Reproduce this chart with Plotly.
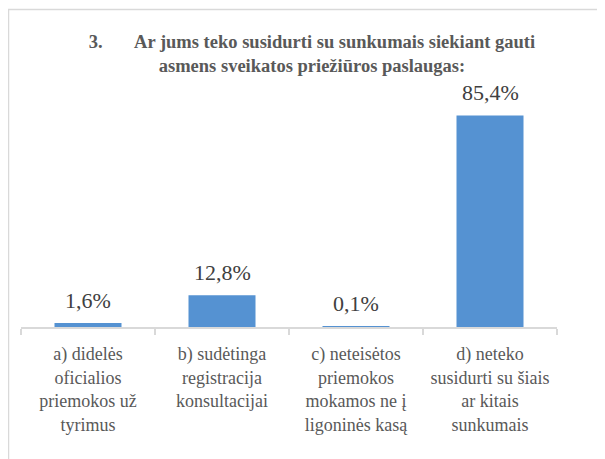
import plotly.graph_objects as go

categories = [
    "a) didelės<br>oficialios<br>priemokos už<br>tyrimus",
    "b) sudėtinga<br>registracija<br>konsultacijai",
    "c) neteisėtos<br>priemokos<br>mokamos ne į<br>ligoninės kasą",
    "d) neteko<br>susidurti su šiais<br>ar kitais<br>sunkumais",
]
values = [1.6, 12.8, 0.1, 85.4]
value_labels = ["1,6%", "12,8%", "0,1%", "85,4%"]
title_text = ("<b>3.\u00a0\u00a0\u00a0\u00a0\u00a0\u00a0 Ar jums teko susidurti su sunkumais siekiant gauti<br>"
              "asmens sveikatos priežiūros paslaugas:</b>")

SERIF = "Liberation Serif"
OFF = 8  # page body margin
W, H = 605 - OFF, 459 - OFF
L, T = 21 - OFF, 104 - OFF
R = W - (557 - OFF)
B = H - (327 - OFF)
pw = W - L - R
ph = H - T - B

fig = go.Figure(go.Bar(
    x=categories,
    y=values,
    marker=dict(color="#5592d2", line=dict(width=0)),
    width=0.5,
    cliponaxis=False,
))

for c, v, t in zip(categories, values, value_labels):
    fig.add_annotation(x=c, y=v, text=t, showarrow=False, yanchor="middle", yshift=23,
                       font=dict(family=SERIF, size=22, color="#404040"))

fig.update_layout(
    width=W, height=H,
    margin=dict(l=L, r=R, t=T, b=B, autoexpand=False),
    paper_bgcolor="white",
    plot_bgcolor="white",
    showlegend=False,
    font=dict(family=SERIF, color="#595959"),
    title=dict(text=title_text, x=(312 - OFF) / W, xanchor="center", y=1 - (48 - OFF) / H, yanchor="middle",
               font=dict(family=SERIF, size=18.5, color="#595959")),
    xaxis=dict(
        showline=True, linecolor="#d9d9d9", linewidth=1.5,
        ticks="outside", tickson="boundaries", ticklen=6, tickcolor="#d9d9d9", tickwidth=1.5,
        tickfont=dict(family=SERIF, size=18, color="#595959"),
        ticklabelstandoff=10,
        showgrid=False, tickangle=0, automargin=False,
    ),
    yaxis=dict(visible=False, range=[0, 90], showgrid=False, zeroline=False),
    shapes=[dict(
        type="rect", xref="paper", yref="paper",
        x0=(0.5 - L) / pw, x1=(W + 10 - L) / pw,
        y0=(H - B - (H + 10)) / ph, y1=(H - B - 1.5) / ph,
        line=dict(color="#d9d9d9", width=1.5), fillcolor="rgba(0,0,0,0)", layer="below",
    )],
)

fig.write_html("out.html")
